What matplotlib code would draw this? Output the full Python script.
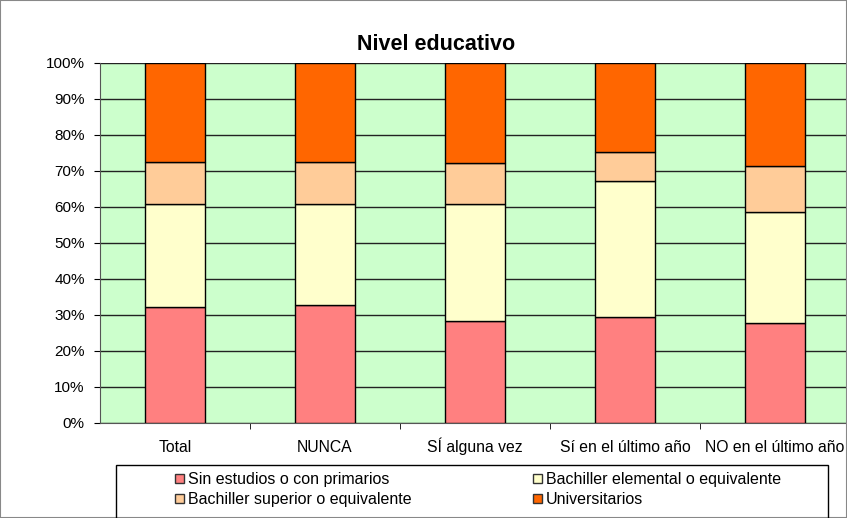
import matplotlib
matplotlib.use("Agg")
import matplotlib.pyplot as plt
import numpy as np
from matplotlib.patches import Rectangle

categories = ["Total", "NUNCA", "SÍ alguna vez", "Sí en el último año", "NO en el último año"]
sin_estudios = [32.2, 32.8, 28.4, 29.4, 27.8]
bach_elemental = [28.5, 27.9, 32.3, 37.7, 30.9]
bach_superior = [11.9, 11.9, 11.6, 8.3, 12.6]
universitarios = [27.4, 27.4, 27.7, 24.6, 28.7]
series_names = ["Sin estudios o con primarios", "Bachiller elemental o equivalente",
                "Bachiller superior o equivalente", "Universitarios"]
colors = ["#FF8080", "#FFFFCC", "#FFCC99", "#FF6600"]
yticks = [0, 10, 20, 30, 40, 50, 60, 70, 80, 90, 100]

plt.rcParams['font.family'] = ['Liberation Sans', 'DejaVu Sans']

W, H = 847, 518
fig = plt.figure(figsize=(W / 100, H / 100), dpi=100)
fig.patch.set_facecolor("white")
fig.add_artist(Rectangle((0, 0), 1, 1, transform=fig.transFigure, fill=False,
                         edgecolor="#888888", linewidth=1.5))

ax = fig.add_axes([100 / W, (H - 423) / H, 750 / W, 360 / H])
ax.set_facecolor("#CCFFCC")

x = np.arange(len(categories))
bottom = np.zeros(len(categories))
data = [sin_estudios, bach_elemental, bach_superior, universitarios]
handles = []
for vals, c, name in zip(data, colors, series_names):
    b = ax.bar(x, vals, width=0.4, bottom=bottom, color=c, edgecolor="black",
               linewidth=1.0, label=name, zorder=3)
    handles.append(b)
    bottom += np.array(vals)

ax.set_xlim(-0.5, len(categories) - 0.5)
ax.set_ylim(0, 100)
ax.set_yticks(yticks)
ax.set_yticklabels([f"{v}%" for v in yticks], fontsize=11)
ax.yaxis.grid(True, color="#222222", linewidth=1.0, zorder=1)
ax.set_axisbelow(True)

ax.set_xticks(x)
ax.set_xticklabels(categories, fontsize=11.3)
for lab in ax.get_xticklabels():
    lab.set_va("baseline")
ax.tick_params(axis="x", length=0, pad=21)
ax.set_xticks(np.arange(0.5, len(categories) - 0.5, 1), minor=True)
ax.tick_params(axis="x", which="minor", length=4, color="black", direction="out")
ax.tick_params(axis="y", length=4.5, color="black", direction="out", pad=6.5)

for s in ["top", "right"]:
    ax.spines[s].set_visible(False)
ax.spines["left"].set_color("#555555")
ax.spines["bottom"].set_color("#555555")

fig.text(436 / W, 1 - 45 / H, "Nivel educativo", ha="center", va="center",
         fontsize=15.5, fontweight="bold")

# legend frame
fig.add_artist(Rectangle((116 / W, -0.05), (828 - 116) / W, 0.05 + (H - 465) / H,
                         transform=fig.transFigure, fill=False, edgecolor="black",
                         linewidth=1.0))
order = [0, 2, 1, 3]
leg = fig.legend([handles[i] for i in order], [series_names[i] for i in order],
                 loc="upper left", bbox_to_anchor=(175 / W, 1 - 472 / H),
                 ncol=2, fontsize=11.5, frameon=False,
                 handlelength=0.55, handleheight=0.55, handletextpad=0.25,
                 borderaxespad=0, borderpad=0, labelspacing=0.33, columnspacing=7.6)
for p in leg.get_patches():
    p.set_edgecolor("#333333")
    p.set_linewidth(1.0)

fig.savefig("out.png", dpi=100)
